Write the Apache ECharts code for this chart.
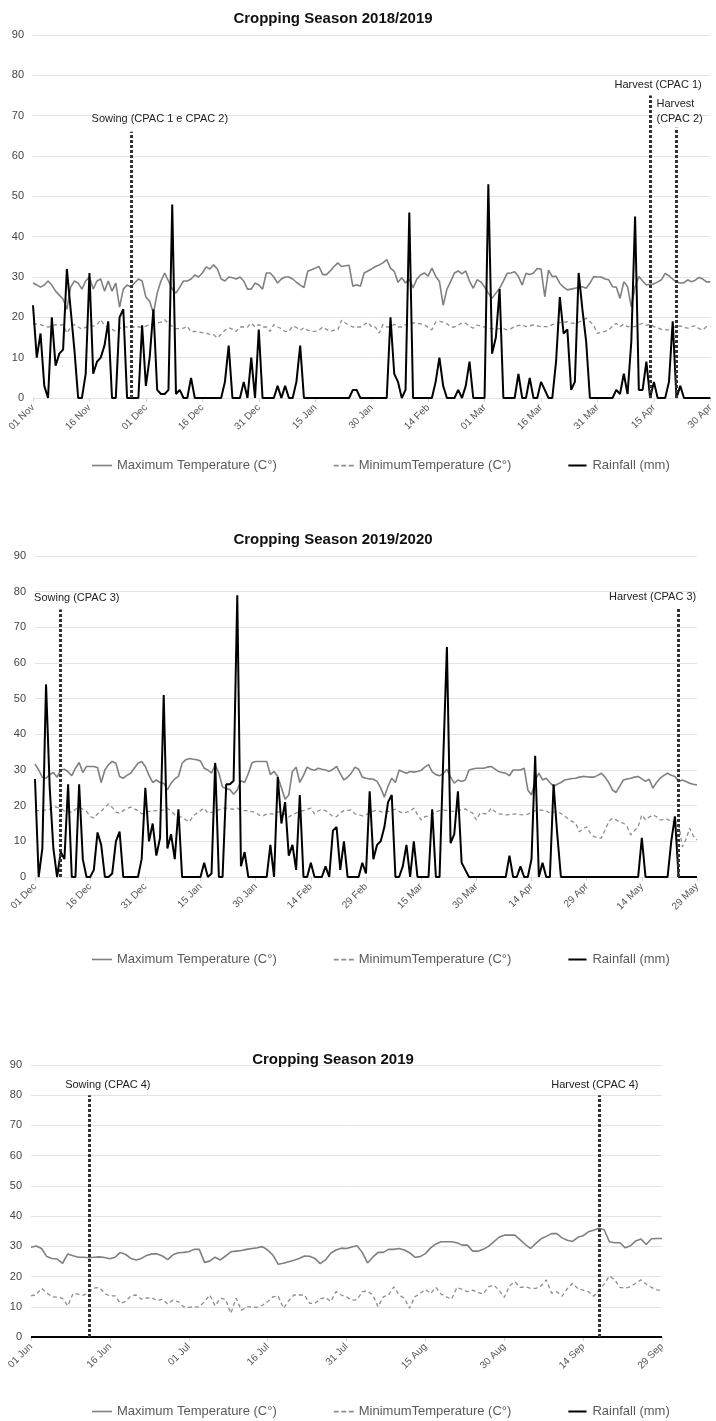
<!DOCTYPE html>
<html>
<head>
<meta charset="utf-8">
<title>Cropping Seasons – Temperature and Rainfall</title>
<script src="https://cdn.jsdelivr.net/npm/echarts@6/dist/echarts.min.js"></script>
<style>
  html, body { margin: 0; padding: 0; background: #ffffff; }
  #chart { width: 716px; height: 1421px; }
</style>
</head>
<body>
<div id="chart"></div>
<script>
// ---- Season titles ----
const seasonTitles = ['Cropping Season 2018/2019', 'Cropping Season 2019/2020', 'Cropping Season 2019'];

// ---- Daily date ranges (first day, number of days) ----
const seasonStarts = ['2018-11-01', '2019-12-01', '2019-06-01'];
const seasonLengths = [181, 181, 121];

// ---- Y axis ticks ----
const yTicks = { min: 0, max: 90, step: 10 };

// ---- Series names ----
const seriesNames = ['Maximum Temperature (C\u00B0)', 'MinimumTemperature (C\u00B0)', 'Rainfall (mm)'];

// ---- Season 2018/2019 (01 Nov – 30 Apr) ----
const maxTemp1 = [
  28.5,28,27.5,28,29,28,26.5,25.5,24.5,22,
  27.5,29,28.5,27,29,30,27,29,29.5,26.5,
  29,26.5,28.5,22.5,27,28,27.5,28.5,29.5,29,
  25,24,21,26,29,31,29,27,26,27.5,
  29,29,29.5,30.5,30,31,32.5,32,33,32,
  29.5,29,30,29.8,29.5,30,29,27,27,28.5,
  28,27,31,31,30,28.5,29.5,30,30,29.5,
  28.7,28,27.4,31.4,31.8,32.2,32.6,30.6,30.6,31.5,
  32.6,33.5,32.6,32.8,32.9,27.7,28.1,27.7,31,31.5,
  32,32.6,33,33.5,34.3,32.2,31.4,28.7,29.8,28.5,
  29.5,27.3,29.5,30.5,31,30.2,32.2,30.2,28.9,23,
  27,28.9,31,31.5,30.8,31.5,29,27.2,29.3,28.8,
  27.5,26,24.7,26,27.2,29,30.9,31,31.3,30.1,
  28,30.9,30.6,31,32.1,32,25.1,31.7,30.1,30.2,
  28.4,27.5,26.8,27,27.2,27.4,27.6,27.2,28.5,30.1,
  30,30,29.5,29.3,27.6,27.5,24.7,28.8,27.6,22.6,
  27.6,30.1,29,28,28.2,28.3,28.8,29.3,30.9,30.3,
  29.5,28.8,28.5,28.6,29.3,28.8,29.2,29.9,29.5,28.8,
  28.8
];
const minTemp1 = [
  18.4,18.3,18.2,17.8,17.6,17.8,18.2,18,18.2,16.1,
  17.5,18.2,17.6,17.1,17.5,17.9,17.8,18.2,19.4,18,
  17.5,17,16.5,17.2,17.8,17.6,17.6,17.6,17.6,17.6,
  17.8,18.2,18.4,18.6,18.8,19.4,18.5,17.8,17.2,17.2,
  17.3,17.8,16.4,16.5,16.4,16.2,16.1,15.8,15.7,14.9,
  15.8,16.8,17.4,17.1,16.5,17.6,17.6,17.6,18.6,17.6,
  18.2,17.6,17.6,16.5,18.2,17.6,17.2,16.5,16.5,17.8,
  17.5,16.8,17.4,16.8,16.5,16.5,16.8,17.6,17,16.5,
  16.8,16.9,19.3,18.6,18,17.6,17.6,17.6,18.2,18.8,
  17.6,17.6,16.1,18.2,17.6,17.6,18.3,17.6,17.6,18.2,
  18.4,18.6,18.5,18.4,18.2,17.5,16.9,18.8,19,18.8,
  18.4,17.6,17.6,18,18.6,18.5,17.8,17.3,18.1,17.8,
  17.6,17.3,17.2,17,17.2,17.2,16.9,17.2,17.7,18,
  18.1,17.7,17.9,18.1,17.9,17.7,17.7,17.7,18.2,18.5,
  18.7,18.8,18.9,18.6,18.5,18.8,19.2,19.8,19,18,
  16,16.4,16.5,16.9,17.8,18.5,17.7,18.3,17.7,17.7,
  17.7,18.2,18.5,18,18.3,17.7,17.4,17,16.9,16.9,
  17.3,17.8,17.9,17.5,17.3,17.7,17.9,17.2,16.9,17.7,
  17.7
];
const rain1 = [
  23,10,16,3,0,20,8,11,12,32,
  22,12,0,0,6,31,6,9,10,13,
  19,0,0,20,22,0,0,0,0,18,
  3,10,22,2,1,1,2,48,1,2,
  0,0,5,0,0,0,0,0,0,0,
  0,4,13,0,0,0,4,0,10,0,
  17,0,0,0,0,3,0,3,0,0,
  4,13,0,0,0,0,0,0,0,0,
  0,0,0,0,0,2,2,0,0,0,
  0,0,0,0,0,20,6,4,0,2,
  46,0,0,0,0,0,0,4,10,3,
  0,0,0,2,0,3,9,0,0,0,
  0,53,11,15,27,0,0,0,0,6,
  0,0,5,0,0,4,2,0,0,9,
  25,16,17,2,4,31,22,14,0,0,
  0,0,0,0,0,2,1,6,1,14,
  45,2,2,9,0,4,0,0,0,4,
  19,0,3,0,0,0,0,0,0,0,
  0
];

// ---- Season 2019/2020 (01 Dec – 29 May) ----
const maxTemp2 = [
  31.7,30,28,27.7,28.7,29.3,28,30,30.2,29.5,
  28.4,30.5,32.1,29.3,31,31,31,30.7,26.5,30,
  31.5,32.4,31.9,28.2,27.7,28.5,29.1,30.5,31.9,32.4,
  31,28.5,26.5,27.2,26.5,26.3,24.4,26.3,27.5,28.2,
  31.9,32.9,33.2,33,32.9,32.5,30.5,30,29.1,31.5,
  29.1,25.2,24.8,24.5,23.2,24.4,27,26.5,29,32,
  32.4,32.4,32.4,32.4,28.7,29.6,28.2,25,21.8,23,
  29.6,30.8,26.5,28.5,30.8,30.2,29.9,30.5,30.2,30,
  29.6,30.2,31,29,27.2,28,29.1,30.8,30.2,28,
  27.7,27.5,27.4,26.8,25,22.4,25.5,27.7,26.5,30,
  29.5,29.1,29.6,29.4,29.6,29.9,30.8,31.5,29.5,28.7,
  28.4,29,30.2,28,26.3,27.2,26.8,27.2,30,30.3,
  30.5,30.5,30.5,30.8,31,30.3,29.6,29.3,29.1,28.4,
  30,30,30,30.5,24.4,23,27,29.1,27.2,27.7,
  26.5,25.4,26,26.5,27.2,27.4,27.6,27.7,28,28.2,
  28.1,28,28,28.5,29.1,28,26.5,24.4,23.7,25.5,
  27.2,27.5,27.7,28,28.2,27.5,26.8,27.4,24.9,26.5,
  27.7,28.5,29.1,28.5,28.2,26.8,27.2,26.8,26.3,26,
  25.8
];
const minTemp2 = [
  18.6,18.6,18.6,18.8,19,19.8,19.5,19.3,18.5,18.4,
  18.1,19,19.5,19,18.4,17,16.5,17.7,18.5,19.5,
  20.5,19.5,18.2,17.9,18.6,19.2,19.6,19.1,18.6,17.7,
  18,18.4,18.5,18.6,18.6,18.8,19.3,18.4,17.5,16.9,
  16.8,16,15.5,17.1,17.9,18.6,19.3,17.9,18.1,18.5,
  18.8,19.3,19.3,19.1,19,19.3,18.7,18.6,18.6,18.3,
  18.1,17.3,17.1,17.7,17.7,17.7,18.2,18.4,17.5,16.8,
  17.5,17.9,18.4,18.6,19,19.3,17.7,18.5,19,18.6,
  17.8,17,16.9,18,18.6,18.7,18.8,17.7,17.5,17.1,
  17.5,17.9,18.5,18.8,18.3,18.1,18.4,18.7,19,18.4,
  17.9,18.2,18.4,19.3,17.5,16,16.9,17.1,17.6,18.3,
  18.6,18.8,18.6,18.4,18.4,18.6,18.9,19.1,18.5,17.9,
  16,17.9,17.8,17.7,19.3,18.4,17.7,17.6,17.4,17.5,
  17.6,17.7,17.5,17.4,17.6,18.1,18.6,18.8,18.7,18.6,
  17.9,18.2,18.4,17.8,17.1,16.3,15.6,15.1,12.7,13.5,
  14.1,12.3,11.3,11,10.9,13.2,15.5,16.5,16,15.4,
  15.1,14.1,11.8,13,14.1,17.4,16,16.8,17.4,16.9,
  16,16.1,16.2,15.5,15.5,15,8.5,10.5,13.7,11.5,
  10.4
];
const rain2 = [
  27.5,0,8,54,25,8,0,7,5,26,
  0,0,26,5,0,0,2,12.5,9,0,
  0,1,10,12.7,0,0,0,0,0,5,
  25,10,15,6,11,51,8,12,5,19,
  0,0,0,0,0,0,4,0,1,32,
  0,0,26,26,27,79,3,7,0,0,
  0,0,0,0,9,0,28,15,21,6,
  9,2,23,0,0,4,0,0,0,3,
  0,13,14,2,10,0,0,0,0,4,
  1,24,5,9,10,14,21,23,0,0,
  3,9,0,10,0,0,0,0,19,0,
  0,33,64.5,9.5,12,24,4,2,0,0,
  0,0,0,0,0,0,0,0,0,6,
  0,0,3,0,0,5,34,0,4,0,
  0,26,12,0,0,0,0,0,0,0,
  0,0,0,0,0,0,0,0,0,0,
  0,0,0,0,0,11,0,0,0,0,
  0,0,0,10,17,0,0,0,0,0,
  0
];

// ---- Season 2019 (01 Jun – 29 Sep) ----
const maxTemp3 = [
  29.7,30.1,29.3,26.6,26,25.8,24.4,27.5,26.9,26.4,
  26.4,26.2,26.4,26.5,26.3,25.9,26.4,28,27.3,26,
  25.5,26,27,27.5,27.5,26.8,25.6,27.2,27.9,28,
  28.2,29,29,24.7,25.1,26.4,25.5,26.8,28.2,28.4,
  28.6,29,29.3,29.5,29.9,28.8,27.1,24.1,24.4,24.9,
  25.4,26,26.8,26.7,26,24.3,25.5,27.7,28.8,29.4,
  29.3,29.8,30.2,28,24.5,26.4,28,28,29,29,
  29.3,28.8,27.9,26.4,26.6,27.6,29.5,30.8,31.5,31.5,
  31.5,31.2,30.4,30.4,28.4,28.4,29,30,31.5,33,
  33.7,33.7,33.7,32.2,30.6,29.3,31,32.5,33.3,34.2,
  34.2,32.8,32,31.6,33,33.5,34.8,35.3,36,35.5,
  31.5,31.2,31.2,29.5,30.2,31.8,32.4,30.6,32.5,32.6,
  32.6
];
const minTemp3 = [
  13.6,14,16.1,14.6,13.3,13.2,12.8,10.3,14.4,14.2,
  13.8,15,16.2,16.4,14.4,13.6,13.6,11.1,11.8,13.6,
  13.9,12.5,12.9,13,12,12.5,10.9,12.2,11.7,10,
  9.8,10,10,11.7,13.9,10.3,12.8,12.5,7.8,12.8,
  8.8,10,10,9.8,10.5,11.7,13.3,13.6,9.5,12,
  13.9,13.9,13.9,11.1,11.1,12.6,13.1,11.7,15,13.9,
  13.3,12.2,12.3,15,15.2,13.9,10,13.3,13.9,16.6,
  13.9,12.8,9.5,13.3,14.4,15.8,14.4,16.4,14.2,13.3,
  12.5,16.4,15.8,15,15.5,14.7,14.2,16.6,17.2,15.5,
  13.1,16.9,18.3,16.4,16.6,16.1,16.1,16.9,18.9,14.5,
  15,13.5,16,17.8,16,15.5,15,13.5,15.5,17.5,
  20.2,19,16.4,16.2,16.6,17.8,18.9,17.5,16.4,15.6,
  15.5
];
const rain3 = [
  0,0,0,0,0,0,0,0,0,0,
  0,0,0,0,0,0,0,0,0,0,
  0,0,0,0,0,0,0,0,0,0,
  0,0,0,0,0,0,0,0,0,0,
  0,0,0,0,0,0,0,0,0,0,
  0,0,0,0,0,0,0,0,0,0,
  0,0,0,0,0,0,0,0,0,0,
  0,0,0,0,0,0,0,0,0,0,
  0,0,0,0,0,0,0,0,0,0,
  0,0,0,0,0,0,0,0,0,0,
  0,0,0,0,0,0,0,0,0,0,
  0,0,0,0,0,0,0,0,0,0,
  0
];

// ---- Crop events: season, date, line height, text ----
const eventSeason = [0, 0, 0, 1, 1, 2, 2];
const eventDate   = ['27 Nov', '14 Apr', '21 Apr', '08 Dec', '24 May', '12 Jun', '17 Sep'];
const eventTop    = [66, 75, 67, 75, 75.5, 80, 80];
const eventText   = ['Sowing (CPAC 1 e CPAC 2)', 'Harvest (CPAC 1)', 'Harvest\n(CPAC 2)',
                     'Sowing (CPAC 3)', 'Harvest (CPAC 3)', 'Sowing (CPAC 4)', 'Harvest (CPAC 4)'];

// ---------------------------------------------------------------------------
const MONTHS = ['Jan','Feb','Mar','Apr','May','Jun','Jul','Aug','Sep','Oct','Nov','Dec'];
function dayLabels(startIso, count) {
  const out = [];
  const t0 = Date.parse(startIso + 'T00:00:00Z');
  for (let i = 0; i < count; i++) {
    const d = new Date(t0 + i * 86400000);
    const dd = String(d.getUTCDate()).padStart(2, '0');
    out.push(dd + ' ' + MONTHS[d.getUTCMonth()]);
  }
  return out;
}
const categories = seasonStarts.map((s, i) => dayLabels(s, seasonLengths[i]));
const maxSeries = [maxTemp1, maxTemp2, maxTemp3];
const minSeries = [minTemp1, minTemp2, minTemp3];
const rainSeries = [rain1, rain2, rain3];

// Layout of the three panels
const grids = [
  { left: 33, top: 35,   width: 683, height: 363 },
  { left: 35, top: 556,  width: 662, height: 321 },
  { left: 31, top: 1065, width: 631, height: 272 }
];
const titleTops = [6, 527, 1047];
const legendTops = [454, 948, 1400];
// event label placement: [horizontal shift, gap above line, align]
const eventLabelLayout = [
  [29, 5, 'center'], [8, 3, 'center'], [-20, 1, 'left'],
  [16, 4, 'center'], [-26, 3, 'center'], [19, 2, 'center'], [-4, 2, 'center']
];

// legend glyphs: solid bar, three short dashes, solid bar
const legendIcons = [
  'path://M0,0h20v1.6h-20z',
  'path://M0,0h4v1.4h-4zM6,0h4v1.4h-4zM12,0h4v1.4h-4z',
  'path://M0,0h20v2.2h-20z'
];

const FONT = '"Liberation Sans", Arial, sans-serif';

const option = {
  animation: false,
  backgroundColor: '#ffffff',
  textStyle: { fontFamily: FONT },
  title: seasonTitles.map((t, i) => ({
    text: t, left: 328, top: titleTops[i], textAlign: 'center',
    textStyle: { fontSize: 15, fontWeight: 'bold', color: '#111', fontFamily: FONT }
  })),
  legend: legendTops.map(top => ({
    top: top, left: 87, itemWidth: 20, itemHeight: 2, itemGap: 57,
    textStyle: { fontSize: 13, color: '#5a5a5a', fontFamily: FONT },
    data: seriesNames.map((n, k) => ({ name: n, icon: legendIcons[k] }))
  })),
  grid: grids,
  xAxis: categories.map((cats, i) => ({
    type: 'category', gridIndex: i, data: cats, boundaryGap: false,
    axisLine: { show: false },
    axisTick: { show: true, interval: 14, length: 4, lineStyle: { color: '#d6d6d6' } },
    axisLabel: { interval: 14, rotate: 45, fontSize: 10, color: '#555', margin: 8, fontFamily: FONT },
    splitLine: { show: false }
  })),
  yAxis: grids.map((g, i) => ({
    type: 'value', gridIndex: i, min: yTicks.min, max: yTicks.max, interval: yTicks.step,
    axisLine: { show: false }, axisTick: { show: false },
    axisLabel: { fontSize: 11, color: '#444', margin: 9, fontFamily: FONT },
    splitLine: { lineStyle: { color: '#e4e4e4', width: 1 } }
  })),
  series: []
};

for (let i = 0; i < 3; i++) {
  option.series.push({
    name: seriesNames[0], type: 'line', xAxisIndex: i, yAxisIndex: i,
    data: maxSeries[i], symbol: 'none', showSymbol: false,
    lineStyle: { color: '#808080', width: 1.6 }, itemStyle: { color: '#808080' }, z: 2
  });
  option.series.push({
    name: seriesNames[1], type: 'line', xAxisIndex: i, yAxisIndex: i,
    data: minSeries[i], symbol: 'none', showSymbol: false,
    lineStyle: { color: '#8e8e8e', width: 1.3, type: [4, 3] }, itemStyle: { color: '#8e8e8e' }, z: 2
  });

  const lines = [];
  const labels = [];
  eventSeason.forEach((s, k) => {
    if (s !== i) return;
    lines.push([{ coord: [eventDate[k], 0] }, { coord: [eventDate[k], eventTop[k]] }]);
    const lay = eventLabelLayout[k];
    labels.push({
      coord: [eventDate[k], eventTop[k]],
      symbolOffset: [lay[0], 0],
      label: {
        show: true, position: 'top', distance: lay[1], align: lay[2],
        formatter: eventText[k], fontSize: 11, lineHeight: 15, color: '#222', fontFamily: FONT
      }
    });
  });

  option.series.push({
    name: seriesNames[2], type: 'line', xAxisIndex: i, yAxisIndex: i,
    data: rainSeries[i], symbol: 'none', showSymbol: false,
    lineStyle: { color: '#000000', width: 2 }, itemStyle: { color: '#000000' }, z: 3,
    markLine: {
      silent: true, symbol: 'none', animation: false,
      label: { show: false },
      lineStyle: { color: '#333333', width: 3, type: [3, 2] },
      data: lines
    },
    markPoint: {
      silent: true, animation: false, symbol: 'rect', symbolSize: 1,
      itemStyle: { color: 'rgba(0,0,0,0)' },
      data: labels
    }
  });
}

const chart = echarts.init(document.getElementById('chart'), null, { renderer: 'canvas' });
chart.setOption(option);
</script>
</body>
</html>
